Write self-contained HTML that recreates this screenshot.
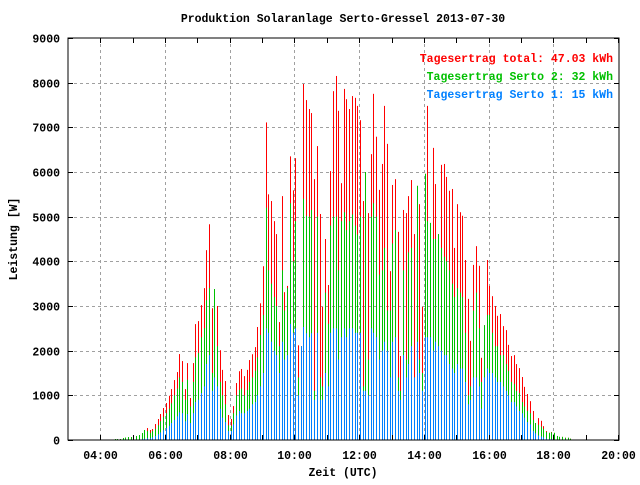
<!DOCTYPE html>
<html><head><meta charset="utf-8"><style>
body{margin:0;background:#fff}
svg text{font-family:"Liberation Mono",monospace;font-weight:bold;font-size:11.5px}
</style></head><body>
<svg id="c" width="640" height="480" viewBox="0 0 640 480">
<rect width="640" height="480" fill="#fff"/>
<text x="343" y="22" text-anchor="middle">Produktion Solaranlage Serto-Gressel 2013-07-30</text>
<g id="grid"></g>
<g id="bars"></g>
<rect x="68" y="38" width="551" height="402" fill="none" stroke="#000" stroke-width="1"/>
<g id="axes"></g>
<text transform="translate(17,239) rotate(-90)" text-anchor="middle">Leistung [W]</text>
<text x="343" y="476" text-anchor="middle">Zeit (UTC)</text>
<g>
<text x="613" y="62" text-anchor="end" fill="#ff0000">Tagesertrag total: 47.03 kWh</text>
<text x="613" y="80" text-anchor="end" fill="#00c000">Tagesertrag Serto 2: 32 kWh</text>
<text x="613" y="98" text-anchor="end" fill="#0080ff">Tagesertrag Serto 1: 15 kWh</text>
</g>
</svg>
<script>
const startHour = 4.44;
const stepHours = 5/60;
const totalW = [22,22,22,45,55,67,67,67,90,112,157,224,268,224,246,358,470,582,716,828,990,1140,1342,1521,1924,1767,1140,1722,940,1722,2595,2662,3020,3400,
4250,4830,2950,3380,3000,2010,1570,1320,560,470,760,1275,1540,1590,1430,1570,1790,1920,2080,2530,3060,3890,7110,5500,5350,4900,4610,2640,5460,3310,3450,6350,5590,6310,2120,
2100,7970,7610,7410,7320,5840,6580,5060,2980,4500,3470,6020,7810,8150,7370,5750,7860,7630,7410,7700,7660,7480,7160,5350,6000,5080,6400,7750,6790,5600,6180,7480,6630,3780,5710,5840,
4660,1880,5150,5080,5460,5820,4610,5690,5280,2980,5960,7480,4860,6540,5730,4610,6160,6180,5890,5580,5620,4300,5280,5100,5020,4030,3160,2220,3920,4340,3900,1840,2570,4030,3450,
3220,3000,2780,2820,2550,2460,2130,1880,1900,1700,1610,1410,1190,1030,870,650,380,490,430,310,200,160,180,160,90,70,70,50,50,30];
const serto2Top = [22,22,22,45,55,67,67,67,90,112,157,224,200,160,200,250,330,420,520,600,700,820,1000,1150,1400,1300,900,1350,750,1300,1850,1950,2300,2500,
3130,3400,1500,3380,2100,1300,1000,800,330,320,600,1000,1120,1150,1000,1120,1300,1400,1550,1850,2350,2800,5200,3800,3500,3200,3000,2100,3800,2900,3400,5300,4000,4900,1400,
2100,5400,5020,5000,5150,1100,5000,1400,1200,3300,2600,4800,5000,5000,3800,4900,5100,4700,4900,5050,4800,4600,5000,1200,6000,1800,5000,5300,5000,3700,3800,4300,2900,2900,4400,4700,
1400,1100,3800,1800,4200,4300,1400,5690,1800,1500,5960,4900,4860,4500,4500,4610,4300,4100,4000,3800,3500,3200,3400,3300,3200,2400,1000,1200,2900,3300,2500,1300,2570,2800,2800,
2400,2100,2100,1900,1900,1700,1550,1300,1250,1100,1050,850,750,650,600,450,380,340,300,250,180,160,170,160,90,70,70,50,50,30];
const serto1 = [0,0,0,0,0,0,0,0,0,10,20,30,40,40,60,90,130,170,220,270,320,380,450,530,620,600,420,580,380,600,850,900,1050,1200,
1700,1900,1100,1400,1200,700,500,400,200,200,350,550,650,600,600,650,700,800,850,1000,1200,1500,2500,2400,2200,2000,1900,1500,2200,1800,1900,2600,2400,2500,1000,
2100,2530,2390,2300,2390,900,2400,900,900,1500,1200,2400,2500,2500,1800,2300,2500,2300,2500,2500,2400,2400,2400,1100,1100,1000,2500,2400,2300,1800,2000,2200,2000,1400,2200,2300,
1100,900,1900,1400,1700,2100,1400,2200,1500,1100,2300,2300,2300,2000,2200,2100,2000,1900,1900,1700,1600,1500,1700,1600,1600,1300,800,900,1400,1400,1200,700,1400,1600,1500,
1500,1400,1300,1300,1200,1100,1000,850,850,750,650,600,500,400,350,200,150,100,80,60,30,20,20,10,0,0,0,0,0,0];
const yTicks = [0,1000,2000,3000,4000,5000,6000,7000,8000,9000];
const xTickHours = [4,6,8,10,12,14,16,18,20];
const xTickLabels = ["04:00","06:00","08:00","10:00","12:00","14:00","16:00","18:00","20:00"];

const NS = "http://www.w3.org/2000/svg";
const X0 = 68, X1 = 619, Y0 = 440, Y1 = 38;
const xMin = 3, xMax = 20.03, yMax = 9000;
const xs = h => X0 + (h - xMin) / (xMax - xMin) * (X1 - X0);
const ys = v => Y0 - v / yMax * (Y0 - Y1);
function mk(tag, attrs, parent) {
  const e = document.createElementNS(NS, tag);
  for (const k in attrs) e.setAttribute(k, attrs[k]);
  parent.appendChild(e);
  return e;
}
const grid = document.getElementById('grid'), bars = document.getElementById('bars'), axes = document.getElementById('axes');
yTicks.forEach(v => {
  const y = Math.round(ys(v)) + 0.5;
  if (v > 0 && v < yMax) {
    const l = mk('line', {x1: X0, x2: X1, y1: y, y2: y, stroke: '#a0a0a0', 'stroke-dasharray': '3,3'}, grid);
    
    
  }
  mk('line', {x1: X0, x2: X0 + 5, y1: y, y2: y, stroke: '#000'}, axes);
  mk('line', {x1: X1 - 5, x2: X1, y1: y, y2: y, stroke: '#000'}, axes);
  const t = mk('text', {x: 60, y: y + 4, 'text-anchor': 'end'}, axes);
  t.textContent = v;
  
  
});
for (let h = 4; h <= 20; h++) {
  const x = Math.round(xs(h)) + 0.5;
  mk('line', {x1: x, x2: x, y1: Y0, y2: Y0 - 5, stroke: '#000'}, axes);
  mk('line', {x1: x, x2: x, y1: Y1, y2: Y1 + 5, stroke: '#000'}, axes);
}
xTickHours.forEach((h, i) => {
  const x = Math.round(xs(h)) + 0.5;
  if (h < 20) {
    const l = mk('line', {x1: x, x2: x, y1: Y1, y2: Y0, stroke: '#a0a0a0', 'stroke-dasharray': '3,3'}, grid);
    
    
  }
  const t = mk('text', {x: x, y: 459, 'text-anchor': 'middle'}, axes);
  t.textContent = xTickLabels[i];
  
  
});
totalW.forEach((v, i) => {
  const x = Math.round(xs(startHour + i * stepHours));
  const r = mk('rect', {x: x, y: ys(v), width: 1, height: Y0 - ys(v), fill: '#ff0000'}, bars);
  
  
  const g = mk('rect', {x: x, y: ys(serto2Top[i]), width: 1, height: Y0 - ys(serto2Top[i]), fill: '#00c000'}, bars);
  
  
  const b = mk('rect', {x: x, y: ys(serto1[i]), width: 1, height: Y0 - ys(serto1[i]), fill: '#0080ff'}, bars);
  
  
});
</script>
</body></html>
